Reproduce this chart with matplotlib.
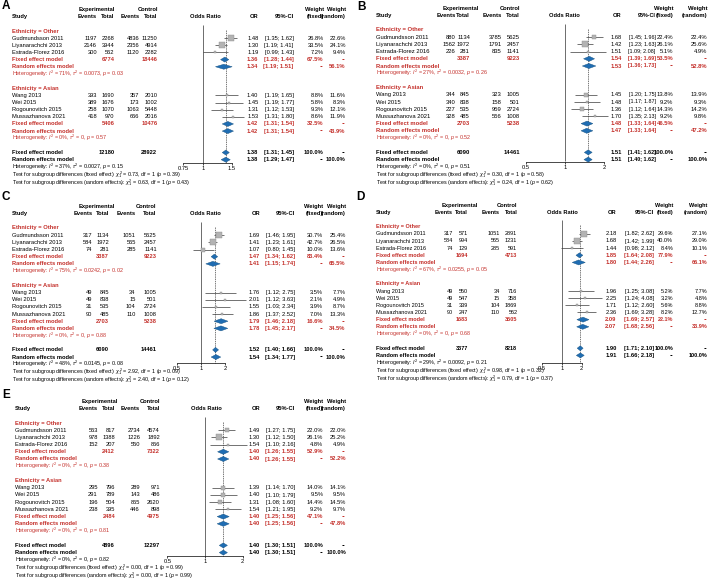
import numpy as np
import matplotlib.pyplot as plt
from matplotlib.patches import Polygon
from matplotlib.ticker import NullLocator

plt.rcParams['font.family'] = ['Liberation Sans', 'DejaVu Sans']
plt.rcParams['mathtext.fontset'] = 'custom'
plt.rcParams['mathtext.rm'] = 'Liberation Sans'
plt.rcParams['mathtext.it'] = 'Liberation Sans:italic'
plt.rcParams['mathtext.bf'] = 'Liberation Sans:bold'

# studies / subgroups
groups = ['Ethnicity = Other', 'Ethnicity = Asian']
studies = ['Gudmundsson 2011', 'Liyanarachchi 2013', 'Estrada-Florez 2016',
           'Wang 2013', 'Wei 2015', 'Rogounovitch 2015', 'Mussazhanova 2021']

# panel A
A_exp_ev = [1197, 2146, 300, 393, 389, 258, 418]
A_exp_n = [2268, 3944, 562, 1690, 1676, 1070, 970]
A_ctl_ev = [4836, 2356, 1120, 357, 173, 1063, 666]
A_ctl_n = [11250, 4914, 2282, 2010, 1002, 5448, 2016]
A_or = [1.48, 1.30, 1.19, 1.40, 1.45, 1.31, 1.53]
A_lo = [1.35, 1.19, 0.99, 1.19, 1.19, 1.12, 1.31]
A_hi = [1.62, 1.41, 1.43, 1.65, 1.77, 1.53, 1.80]
A_wf = [26.8, 33.5, 7.2, 8.8, 5.8, 9.3, 8.6]
A_wr = [22.6, 24.1, 9.4, 11.6, 8.3, 12.1, 11.9]
A_fixed = [(1.36, 1.28, 1.44, 67.5), (1.42, 1.31, 1.54, 32.5), (1.38, 1.31, 1.45, 100.0)]
A_random = [(1.34, 1.19, 1.51, 56.1), (1.42, 1.31, 1.54, 43.9), (1.38, 1.29, 1.47, 100.0)]
A_tot_exp = [6774, 5406, 12180]
A_tot_ctl = [18446, 10476, 28922]
A_het = [('71%', '0.0073', '0.03'), ('0%', '0', '0.57'), ('37%', '0.0027', '0.15')]
A_test = [('0.73', '0.39'), ('0.63', '0.43')]
A_ticks = [0.75, 1, 1.5]

# panel B
B_exp_ev = [880, 1562, 226, 344, 340, 227, 328]
B_exp_n = [1134, 1972, 281, 845, 838, 535, 485]
B_ctl_ev = [3785, 1791, 835, 323, 158, 959, 556]
B_ctl_n = [5625, 2457, 1141, 1005, 501, 2724, 1008]
B_or = [1.68, 1.42, 1.51, 1.45, 1.48, 1.36, 1.70]
B_lo = [1.45, 1.23, 1.09, 1.20, 1.17, 1.12, 1.35]
B_hi = [1.96, 1.63, 2.08, 1.75, 1.87, 1.64, 2.13]
B_wf = [22.4, 26.1, 5.1, 13.8, 9.2, 14.3, 9.2]
B_wr = [22.4, 25.6, 4.9, 13.9, 9.3, 14.2, 9.8]
B_fixed = [(1.54, 1.39, 1.69, 53.5), (1.48, 1.33, 1.64, 46.5), (1.51, 1.41, 1.62, 100.0)]
B_random = [(1.53, 1.36, 1.73, 52.8), (1.47, 1.33, 1.64, 47.2), (1.51, 1.40, 1.62, 100.0)]
B_tot_exp = [3387, 2703, 6090]
B_tot_ctl = [9223, 5238, 14461]
B_het = [('27%', '0.0032', '0.26'), ('0%', '0', '0.52'), ('0%', '0', '0.51')]
B_test = [('0.30', '0.58'), ('0.24', '0.62')]
B_ticks = [0.5, 1, 2]

# panel C
C_exp_ev = [317, 584, 74, 49, 49, 31, 90]
C_exp_n = [1134, 1972, 281, 845, 838, 535, 485]
C_ctl_ev = [1051, 565, 285, 34, 15, 104, 110]
C_ctl_n = [5625, 2457, 1141, 1005, 501, 2724, 1008]
C_or = [1.69, 1.41, 1.07, 1.76, 2.01, 1.55, 1.86]
C_lo = [1.46, 1.23, 0.80, 1.12, 1.12, 1.03, 1.37]
C_hi = [1.95, 1.61, 1.45, 2.75, 3.63, 2.34, 2.52]
C_wf = [30.7, 42.7, 10.0, 3.5, 2.1, 3.9, 7.0]
C_wr = [25.4, 26.5, 13.6, 7.7, 4.9, 8.7, 13.3]
C_fixed = [(1.47, 1.34, 1.62, 83.4), (1.79, 1.46, 2.18, 16.6), (1.52, 1.40, 1.66, 100.0)]
C_random = [(1.41, 1.15, 1.74, 65.5), (1.78, 1.45, 2.17, 34.5), (1.54, 1.34, 1.77, 100.0)]
C_tot_exp = [3387, 2703, 6090]
C_tot_ctl = [9223, 5238, 14461]
C_het = [('75%', '0.0242', '0.02'), ('0%', '0', '0.88'), ('48%', '0.0145', '0.08')]
C_test = [('2.92', '0.09'), ('2.40', '0.12')]
C_ticks = [0.5, 1, 2]

# panel D
D_exp_ev = [317, 584, 74, 49, 49, 31, 90]
D_exp_n = [571, 994, 129, 550, 547, 339, 247]
D_ctl_ev = [1051, 565, 285, 34, 15, 104, 110]
D_ctl_n = [2891, 1231, 591, 716, 358, 1869, 562]
D_or = [2.18, 1.68, 1.44, 1.96, 2.25, 1.71, 2.36]
D_lo = [1.82, 1.42, 0.98, 1.25, 1.24, 1.12, 1.69]
D_hi = [2.62, 1.99, 2.12, 3.08, 4.08, 2.60, 3.28]
D_wf = [29.6, 40.0, 8.4, 5.2, 3.2, 5.6, 8.2]
D_wr = [27.1, 29.0, 10.1, 7.7, 4.8, 8.8, 12.7]
D_fixed = [(1.85, 1.64, 2.08, 77.9), (2.09, 1.69, 2.57, 22.1), (1.90, 1.71, 2.10, 100.0)]
D_random = [(1.80, 1.44, 2.26, 66.1), (2.07, 1.68, 2.56, 33.9), (1.91, 1.66, 2.18, 100.0)]
D_tot_exp = [1694, 1683, 3377]
D_tot_ctl = [4713, 3505, 8218]
D_het = [('67%', '0.0255', '0.05'), ('0%', '0', '0.68'), ('29%', '0.0092', '0.21')]
D_test = [('0.98', '0.32'), ('0.79', '0.37')]
D_ticks = [0.5, 1, 2]

# panel E
E_exp_ev = [563, 978, 152, 295, 291, 196, 238]
E_exp_n = [817, 1388, 207, 796, 789, 504, 395]
E_ctl_ev = [2734, 1226, 550, 289, 143, 855, 446]
E_ctl_n = [4574, 1892, 856, 971, 486, 2620, 898]
E_or = [1.49, 1.30, 1.54, 1.39, 1.40, 1.31, 1.54]
E_lo = [1.27, 1.12, 1.10, 1.14, 1.10, 1.08, 1.21]
E_hi = [1.75, 1.50, 2.16, 1.70, 1.79, 1.60, 1.95]
E_wf = [22.0, 26.1, 4.8, 14.0, 9.5, 14.4, 9.2]
E_wr = [22.0, 25.2, 4.9, 14.1, 9.5, 14.5, 9.7]
E_fixed = [(1.40, 1.26, 1.55, 52.9), (1.40, 1.25, 1.56, 47.1), (1.40, 1.30, 1.51, 100.0)]
E_random = [(1.40, 1.26, 1.55, 52.2), (1.40, 1.25, 1.56, 47.8), (1.40, 1.30, 1.51, 100.0)]
E_tot_exp = [2412, 2484, 4896]
E_tot_ctl = [7322, 4975, 12297]
E_het = [('0%', '0', '0.38'), ('0%', '0', '0.81'), ('0%', '0', '0.82')]
E_test = [('0.00', '0.99'), ('0.00', '0.99')]
E_ticks = [0.5, 1, 2]

panels = {
    'A': dict(exp_ev=A_exp_ev, exp_n=A_exp_n, ctl_ev=A_ctl_ev, ctl_n=A_ctl_n, orr=A_or, lo=A_lo, hi=A_hi,
              wf=A_wf, wr=A_wr, fixed=A_fixed, random=A_random, tot_exp=A_tot_exp, tot_ctl=A_tot_ctl,
              het=A_het, test=A_test, ticks=A_ticks),
    'B': dict(exp_ev=B_exp_ev, exp_n=B_exp_n, ctl_ev=B_ctl_ev, ctl_n=B_ctl_n, orr=B_or, lo=B_lo, hi=B_hi,
              wf=B_wf, wr=B_wr, fixed=B_fixed, random=B_random, tot_exp=B_tot_exp, tot_ctl=B_tot_ctl,
              het=B_het, test=B_test, ticks=B_ticks),
    'C': dict(exp_ev=C_exp_ev, exp_n=C_exp_n, ctl_ev=C_ctl_ev, ctl_n=C_ctl_n, orr=C_or, lo=C_lo, hi=C_hi,
              wf=C_wf, wr=C_wr, fixed=C_fixed, random=C_random, tot_exp=C_tot_exp, tot_ctl=C_tot_ctl,
              het=C_het, test=C_test, ticks=C_ticks),
    'D': dict(exp_ev=D_exp_ev, exp_n=D_exp_n, ctl_ev=D_ctl_ev, ctl_n=D_ctl_n, orr=D_or, lo=D_lo, hi=D_hi,
              wf=D_wf, wr=D_wr, fixed=D_fixed, random=D_random, tot_exp=D_tot_exp, tot_ctl=D_tot_ctl,
              het=D_het, test=D_test, ticks=D_ticks),
    'E': dict(exp_ev=E_exp_ev, exp_n=E_exp_n, ctl_ev=E_ctl_ev, ctl_n=E_ctl_n, orr=E_or, lo=E_lo, hi=E_hi,
              wf=E_wf, wr=E_wr, fixed=E_fixed, random=E_random, tot_exp=E_tot_exp, tot_ctl=E_tot_ctl,
              het=E_het, test=E_test, ticks=E_ticks),
}

# layout of each panel, in pixels of the 708x579 figure
# narrow_fs: size of the condensed table text (None = normal font); ci_fs: size of the CI column
layout = {
    'A': dict(letter=(2, 6), study_x=12, cols=(97, 114.3, 139.3, 157.3), exp_c=97, ctl_c=147.5, or_c=205,
              x1=203.3, k=70, or_x=258.3, ci_x=293.7, wf_x=323.7, wr_x=345.7, y0=31, dy=7.15, axis_y=163.3,
              narrow_fs=None, narrow_w=False, ci_fs=4.15),
    'B': dict(letter=(357, 6.5), study_x=375.7, cols=(455.7, 470, 501.7, 519.7), exp_c=461, ctl_c=510, or_c=564.3,
              x1=565, k=56.3, or_x=621.7, ci_x=655.7, wf_x=673.3, wr_x=707.3, y0=30, dy=7.2, axis_y=161.5,
              narrow_fs=4.2, narrow_w=True, ci_fs=3.85),
    'C': dict(letter=(1, 197), study_x=11.7, cols=(92.3, 109, 135.7, 156.7), exp_c=96.7, ctl_c=146, or_c=205.7,
              x1=201, k=34.6, or_x=260, ci_x=295, wf_x=323.3, wr_x=345.7, y0=228, dy=7.17, axis_y=362.5,
              narrow_fs=None, narrow_w=False, ci_fs=4.15),
    'D': dict(letter=(356, 196.5), study_x=375.7, cols=(453, 467.7, 500, 517.3), exp_c=460, ctl_c=507, or_c=562.3,
              x1=561.7, k=28.9, or_x=616.7, ci_x=654.3, wf_x=673.3, wr_x=707.3, y0=226.7, dy=7.15, axis_y=363.3,
              narrow_fs=4.0, narrow_w=True, ci_fs=4.15),
    'E': dict(letter=(2, 395.5), study_x=15, cols=(97.7, 115, 140, 160), exp_c=100, ctl_c=150, or_c=206.7,
              x1=205, k=54.4, or_x=260, ci_x=295, wf_x=323.3, wr_x=346, y0=423, dy=7.2, axis_y=556,
              narrow_fs=None, narrow_w=False, ci_fs=4.15),
}

W, H = 708, 579
FS = 4.15
FS_SMALL = 3.85
RED = '#c4302b'
BLUE = '#1f6db3'
NORMAL = ['Liberation Sans', 'DejaVu Sans']
NARROW = ['Liberation Sans Narrow', 'Liberation Sans', 'DejaVu Sans']

fig = plt.figure(figsize=(W / 100, H / 100), dpi=100)
bg = fig.add_axes([0, 0, 1, 1])
bg.set_xlim(0, W)
bg.set_ylim(H, 0)
bg.axis('off')


def txt(x, y, s, ha='left', color='black', bold=False, size=FS, narrow=None):
    fam = NORMAL
    if narrow:
        fam = NARROW
        size = narrow
    bg.text(x, y, s, ha=ha, va='center', color=color, fontsize=size, family=fam,
            fontweight='bold' if bold else 'normal')


study_rows = [1, 2, 3, 9, 10, 11, 12]
fixed_rows = [4, 13, 17]
random_rows = [5, 14, 18]
het_rows = [6, 15, 19]

for name, P in panels.items():
    L = layout[name]
    y0, dy = L['y0'], L['dy']
    nf = L['narrow_fs']
    nw = nf if L['narrow_w'] else None
    cf = L['ci_fs']

    def ry(i):
        return y0 + i * dy

    c1, c2, c3, c4 = L['cols']
    bg.text(L['letter'][0], L['letter'][1], name, ha='left', va='center', fontsize=8.5, fontweight='bold')

    # headers
    txt(L['exp_c'], ry(-3), 'Experimental', ha='center', bold=True)
    txt(L['ctl_c'], ry(-3), 'Control', ha='center', bold=True)
    txt(L['study_x'], ry(-2), 'Study', bold=True, narrow=nf)
    for cx, lab in zip(L['cols'], ['Events', 'Total', 'Events', 'Total']):
        txt(cx, ry(-2), lab, ha='right', bold=True, narrow=nf)
    txt(L['or_c'], ry(-2), 'Odds Ratio', ha='center', bold=True)
    txt(L['or_x'], ry(-2), 'OR', ha='right', bold=True)
    txt(L['ci_x'], ry(-2), '95%-CI', ha='right', bold=True, size=cf)
    txt(L['wf_x'], ry(-3), 'Weight', ha='right', bold=True, narrow=nw)
    txt(L['wf_x'], ry(-2), '(fixed)', ha='right', bold=True, narrow=nw)
    txt(L['wr_x'], ry(-3), 'Weight', ha='right', bold=True, narrow=nw)
    txt(L['wr_x'], ry(-2), '(random)', ha='right', bold=True, narrow=nw)

    # subgroup headers
    txt(L['study_x'], ry(0), groups[0], color=RED, bold=True, narrow=nf)
    txt(L['study_x'], ry(8), groups[1], color=RED, bold=True, narrow=nf)

    # study rows
    for j, r in enumerate(study_rows):
        y = ry(r)
        txt(L['study_x'], y, studies[j], narrow=nf)
        txt(c1, y, str(P['exp_ev'][j]), ha='right', narrow=nf)
        txt(c2, y, str(P['exp_n'][j]), ha='right', narrow=nf)
        txt(c3, y, str(P['ctl_ev'][j]), ha='right', narrow=nf)
        txt(c4, y, str(P['ctl_n'][j]), ha='right', narrow=nf)
        txt(L['or_x'], y, f"{P['orr'][j]:.2f}", ha='right')
        txt(L['ci_x'], y, f"[{P['lo'][j]:.2f}; {P['hi'][j]:.2f}]", ha='right', size=cf)
        txt(L['wf_x'], y, f"{P['wf'][j]:.1f}%", ha='right', narrow=nw)
        txt(L['wr_x'], y, f"{P['wr'][j]:.1f}%", ha='right', narrow=nw)

    # summary rows
    for g in range(3):
        col = RED if g < 2 else 'black'
        yf, yr, yh = ry(fixed_rows[g]), ry(random_rows[g]), ry(het_rows[g])
        o, lo, hi, w = P['fixed'][g]
        txt(L['study_x'], yf, 'Fixed effect model', color=col, bold=True, narrow=nf)
        txt(c2, yf, str(P['tot_exp'][g]), ha='right', color=col, bold=True, narrow=nf)
        txt(c4, yf, str(P['tot_ctl'][g]), ha='right', color=col, bold=True, narrow=nf)
        txt(L['or_x'], yf, f"{o:.2f}", ha='right', color=col, bold=True)
        txt(L['ci_x'], yf, f"[{lo:.2f}; {hi:.2f}]", ha='right', color=col, bold=True, size=cf)
        txt(L['wf_x'], yf, f"{w:.1f}%", ha='right', color=col, bold=True, narrow=nw)
        txt(L['wr_x'], yf, '--', ha='right', color=col, bold=True, narrow=nw)
        o, lo, hi, w = P['random'][g]
        txt(L['study_x'], yr, 'Random effects model', color=col, bold=True, narrow=nf)
        txt(L['or_x'], yr, f"{o:.2f}", ha='right', color=col, bold=True)
        txt(L['ci_x'], yr, f"[{lo:.2f}; {hi:.2f}]", ha='right', color=col, bold=True, size=cf)
        txt(L['wf_x'], yr, '--', ha='right', color=col, bold=True, narrow=nw)
        txt(L['wr_x'], yr, f"{w:.1f}%", ha='right', color=col, bold=True, narrow=nw)
        i2, t2, p = P['het'][g]
        txt(L['study_x'], yh, rf"Heterogeneity: $I^2$ = {i2}, $\tau^2$ = {t2}, $p$ = {p}",
            color=col, size=FS_SMALL)

    chi_f, p_f = P['test'][0]
    chi_r, p_r = P['test'][1]
    txt(L['study_x'], ry(20) + 0.5,
        rf"Test for subgroup differences (fixed effect): $\chi^2_1$ = {chi_f}, df = 1 ($p$ = {p_f})", size=FS_SMALL)
    txt(L['study_x'], ry(21) + 1.5,
        rf"Test for subgroup differences (random effects): $\chi^2_1$ = {chi_r}, df = 1 ($p$ = {p_r})", size=FS_SMALL)

    # forest part
    ticks = P['ticks']
    left = L['x1'] + L['k'] * np.log(ticks[0])
    right = L['x1'] + L['k'] * np.log(ticks[-1])
    top = y0 - 1.5 * dy
    bottom = L['axis_y']
    ax = fig.add_axes([left / W, 1 - bottom / H, (right - left) / W, (bottom - top) / H])
    ax.set_xscale('log')
    ax.set_xlim(ticks[0], ticks[-1])
    axis_row = (bottom - y0) / dy
    ax.set_ylim(axis_row, -1.5)
    ax.patch.set_visible(False)
    for s in ['top', 'left', 'right']:
        ax.spines[s].set_visible(False)
    ax.spines['bottom'].set_linewidth(0.5)
    ax.set_yticks([])
    ax.xaxis.set_minor_locator(NullLocator())
    ax.set_xticks(ticks)
    ax.set_xticklabels([f'{t:g}' for t in ticks])
    ax.tick_params(axis='x', length=1.6, width=0.5, labelsize=FS, pad=0.6)

    ax.vlines(1, -0.9, axis_row, color='#555555', lw=0.6, clip_on=False)
    ax.vlines(P['fixed'][2][0], -0.2, axis_row, color='#444444', lw=0.5,
              linestyles=(0, (2, 1.2)), clip_on=False)

    for j, r in enumerate(study_rows):
        ax.hlines(r, P['lo'][j], P['hi'][j], color='#3a3a3a', lw=0.5, clip_on=False, zorder=2)
        side = 9.8 * np.sqrt(P['wf'][j] / 100) * 0.72
        ax.scatter([P['orr'][j]], [r], s=side ** 2, marker='s', color='#b3b3b3',
                   edgecolors='#909090', linewidths=0.3, zorder=3, clip_on=False)
        ax.scatter([P['orr'][j]], [r], s=0.4, marker='s', color='#333333', zorder=4, clip_on=False)

    h = 0.35
    for g in range(3):
        for r, est in ((fixed_rows[g], P['fixed'][g]), (random_rows[g], P['random'][g])):
            o, lo, hi = est[0], est[1], est[2]
            ax.add_patch(Polygon([(lo, r), (o, r - h), (hi, r), (o, r + h)], closed=True,
                                 facecolor=BLUE, edgecolor='#14507f', lw=0.3, zorder=3, clip_on=False))

fig.savefig('out.png', dpi=100)
